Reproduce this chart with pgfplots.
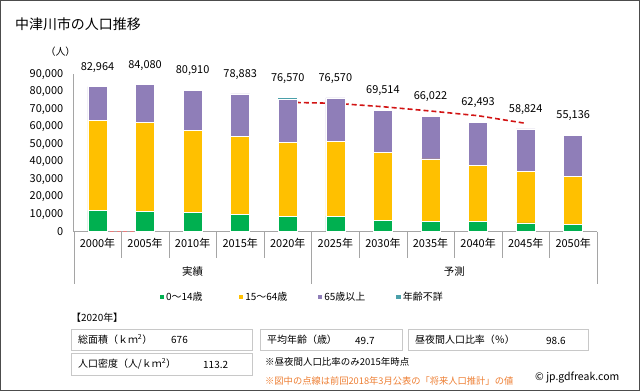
\documentclass[border=0pt]{standalone}
\usepackage{fontspec}
\setmainfont{Noto Sans CJK JP}
\usepackage{pgfplots}
\pgfplotsset{compat=1.18}
\definecolor{cG}{RGB}{0,176,80}
\definecolor{cY}{RGB}{255,192,0}
\definecolor{cP}{RGB}{143,126,184}
\definecolor{cU}{RGB}{75,160,170}
\definecolor{cR}{RGB}{210,20,20}
\definecolor{cO}{RGB}{237,125,49}
\definecolor{cL}{RGB}{165,165,165}
\definecolor{cB}{RGB}{200,200,200}
\newcommand{\fs}[1]{\fontsize{#1}{#1}\selectfont}
\begin{document}
\begin{tikzpicture}[x=1bp,y=1bp]
\draw[gray!60!black, line width=1bp] (0.5,0.5) rectangle (639.5,390.5);
\node[anchor=west, font=\fs{14}, inner sep=0] at (15,367) {中津川市の人口推移};
\node[font=\fs{10}, inner sep=0] at (60.5,339) {（人）};
\begin{axis}[
  at={(73.7bp,159.3bp)}, anchor=south west, scale only axis,
  width=523.3bp, height=157.3bp,
  ybar stacked, bar width=19bp,
  xmin=-0.5, xmax=10.5, ymin=0, ymax=90000,
  axis x line=bottom, axis y line=left,
  axis line style={-, draw=cL, line width=0.8bp},
  major tick length=0,
  ytick={0,10000,20000,30000,40000,50000,60000,70000,80000,90000},
  scaled y ticks=false,
  /pgf/number format/1000 sep={,},
  /pgf/number format/assume math mode=true,
  yticklabel style={font=\fs{11}, xshift=-7bp},
  xtick={0,1,2,3,4,5,6,7,8,9,10},
  xticklabels={2000年,2005年,2010年,2015年,2020年,2025年,2030年,2035年,2040年,2045年,2050年},
  xticklabel style={font=\fs{11}, yshift=-3bp},
  clip=false,
  legend columns=4,
  legend style={at={(0.4516,-0.415)}, anchor=center, draw=none, fill=none,
    font=\fs{10}, column sep=2bp, inner sep=0pt,
    nodes={text width=58bp, align=left, inner sep=0pt},
    /tikz/every even column/.append style={column sep=14bp}},
  legend image code/.code={\fill[#1] (0bp,-2.3bp) rectangle (4.6bp,2.3bp);},
]
\addplot[fill=cG, draw=white, line width=0.5bp] coordinates {
(0,12000) (1,11440) (2,10870) (3,9950) (4,8980) (5,8900) (6,6500) (7,5700) (8,5700) (9,5100) (10,4200)};
\addlegendentry{0～14歳}
\addplot[fill=cY, draw=white, line width=0.5bp] coordinates {
(0,51900) (1,51320) (2,47310) (3,44400) (4,41920) (5,42900) (6,38700) (7,35900) (8,32450) (9,29450) (10,27260)};
\addlegendentry{15～64歳}
\addplot[fill=cP, draw=white, line width=0.5bp] coordinates {
(0,19064) (1,21320) (2,22730) (3,24533) (4,24970) (5,24770) (6,24314) (7,24422) (8,24343) (9,24274) (10,23676)};
\addlegendentry{65歳以上}
\addplot[fill=cU, draw=none] coordinates {
(0,0) (1,0) (2,0) (3,0) (4,700) (5,0) (6,0) (7,0) (8,0) (9,0) (10,0)};
\addlegendentry{年齢不詳}
\addplot[sharp plot, stack plots=false, forget plot, draw=cR!55, line width=1bp,
  dash pattern=on 4bp off 2.5bp, mark=none] coordinates {(0,0) (1,0)};
\addplot[sharp plot, stack plots=false, forget plot, draw=cR, line width=1.6bp,
  dash pattern=on 5bp off 3bp, mark=none] coordinates {
(4,74030) (5,73460) (6,71510) (7,69050) (8,66360) (9,62010)};
\draw[cL] (axis cs:0.5,0) -- ([yshift=-26bp]axis cs:0.5,0);
\draw[cL] (axis cs:1.5,0) -- ([yshift=-26bp]axis cs:1.5,0);
\draw[cL] (axis cs:2.5,0) -- ([yshift=-26bp]axis cs:2.5,0);
\draw[cL] (axis cs:3.5,0) -- ([yshift=-26bp]axis cs:3.5,0);
\draw[cL] (axis cs:5.5,0) -- ([yshift=-26bp]axis cs:5.5,0);
\draw[cL] (axis cs:6.5,0) -- ([yshift=-26bp]axis cs:6.5,0);
\draw[cL] (axis cs:7.5,0) -- ([yshift=-26bp]axis cs:7.5,0);
\draw[cL] (axis cs:8.5,0) -- ([yshift=-26bp]axis cs:8.5,0);
\draw[cL] (axis cs:9.5,0) -- ([yshift=-26bp]axis cs:9.5,0);
\draw[cL] (axis cs:-0.5,0) -- ([yshift=-52bp]axis cs:-0.5,0);
\draw[cL] (axis cs:4.5,0) -- ([yshift=-52bp]axis cs:4.5,0);
\draw[cL] (axis cs:10.5,0) -- ([yshift=-52bp]axis cs:10.5,0);
\node[font=\fs{10.5}, yshift=-40bp] at (axis cs:2,0) {実績};
\node[font=\fs{10.5}, yshift=-40bp] at (axis cs:7.5,0) {予測};
\end{axis}
\begin{axis}[
  at={(73.7bp,159.3bp)}, anchor=south west, scale only axis,
  width=523.3bp, height=157.3bp,
  xmin=-0.5, xmax=10.5, ymin=0, ymax=90000,
  hide axis, clip=false,
  /pgf/number format/1000 sep={,},
  /pgf/number format/assume math mode=true,
]
\addplot[draw=none, mark=none, nodes near coords,
  nodes near coords style={font=\fs{11}, anchor=center, yshift=19.5bp, text=black}] coordinates {
(0,82964) (1,84080) (2,80910) (3,78883) (4,76570) (5,76570) (6,69514) (7,66022) (8,62493) (9,58824) (10,55136)};
\end{axis}
% info section
\node[anchor=west, font=\fs{10}, inner sep=0] at (71,73) {【2020年】};
\draw[cB, line width=1bp] (71,41) rectangle (252,62);
\draw[cB, line width=1bp] (260,41) rectangle (402,62);
\draw[cB, line width=1bp] (408,41) rectangle (588,62);
\draw[cB, line width=1bp] (71,16) rectangle (252,38);
\node[anchor=west, font=\fs{10}, inner sep=0] at (78,51.5) {総面積（ｋｍ\textsuperscript{2}）};
\node[anchor=west, font=\fs{10}, inner sep=0] at (171,51) {676};
\node[anchor=west, font=\fs{10}, inner sep=0] at (267,51.5) {平均年齢（歳）};
\node[anchor=west, font=\fs{10}, inner sep=0] at (355,50) {49.7};
\node[anchor=west, font=\fs{10}, inner sep=0] at (415,51.5) {昼夜間人口比率（％）};
\node[anchor=west, font=\fs{10}, inner sep=0] at (546,50) {98.6};
\node[anchor=west, font=\fs{10}, inner sep=0] at (78,27) {人口密度（人/ｋｍ\textsuperscript{2}）};
\node[anchor=west, font=\fs{10}, inner sep=0] at (203,26) {113.2};
\node[anchor=west, font=\fs{9.5}, inner sep=0] at (265,29) {※昼夜間人口比率のみ2015年時点};
\node[anchor=west, font=\fs{9.3}, inner sep=0, text=cO] at (265,10) {※図中の点線は前回2018年3月公表の「将来人口推計」の値};
\node[anchor=west, font=\fs{10.5}, inner sep=0] at (535,13) {© jp.gdfreak.com};
\end{tikzpicture}
\end{document}
